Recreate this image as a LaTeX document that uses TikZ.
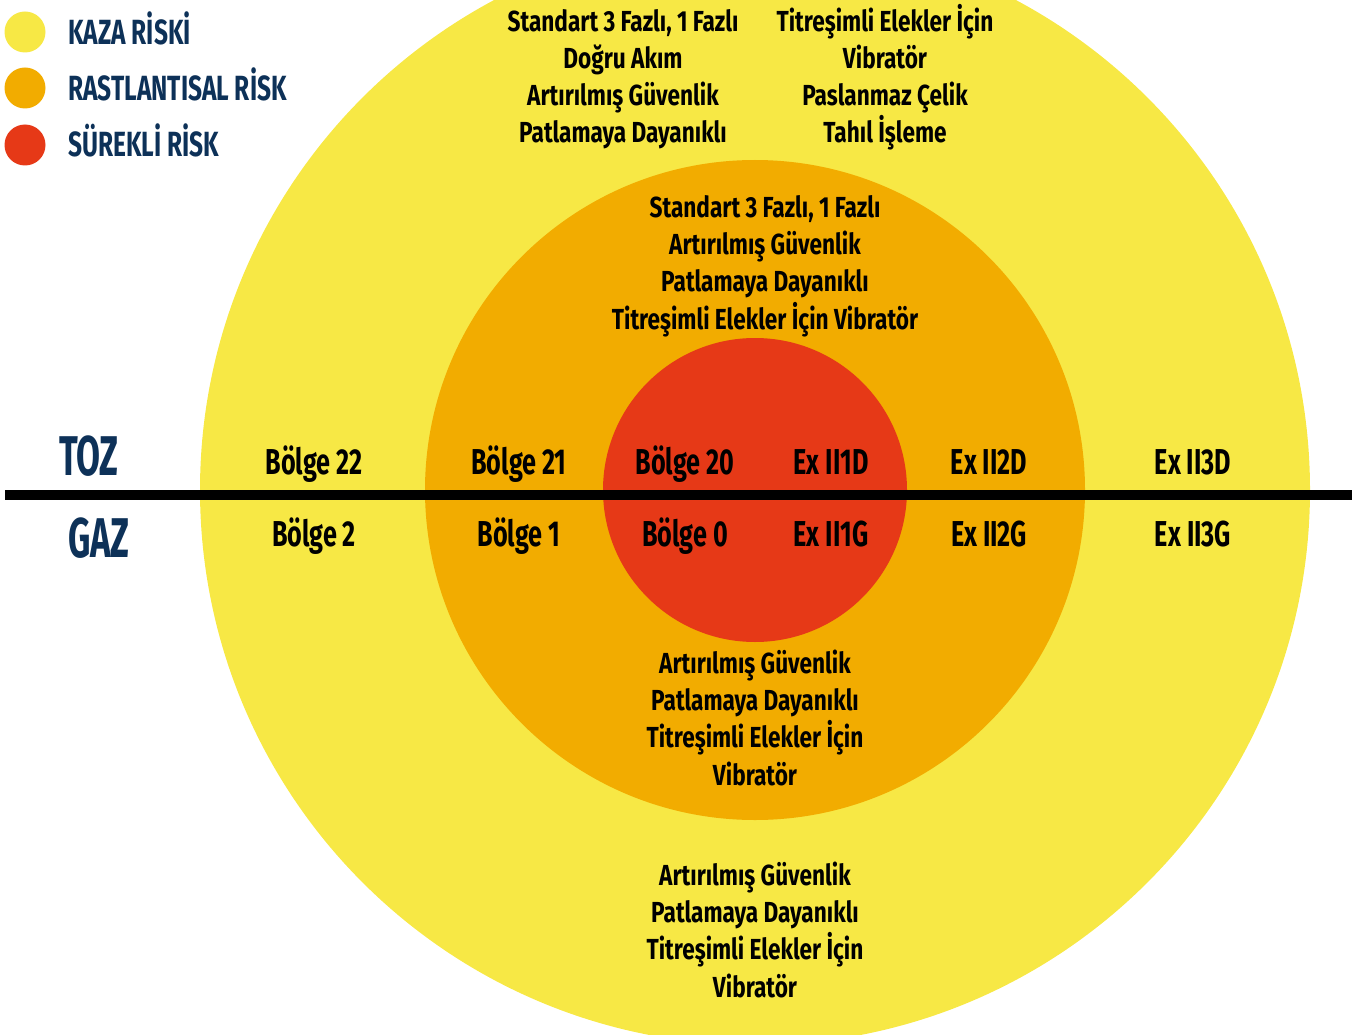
\documentclass[tikz,border=0pt]{standalone}
\usepackage{fontspec}
\setmainfont{Fira Sans}[FakeStretch=0.75]
\newfontfamily\zonefont{Fira Sans}[FakeStretch=0.78]
\newfontfamily\rowfont{Fira Sans}[FakeStretch=0.70]
\newfontfamily\sidefont{Fira Sans}[FakeStretch=0.62]
\definecolor{kaza}{HTML}{F7E845}
\definecolor{rastlanti}{HTML}{F2AC00}
\definecolor{surekli}{HTML}{E63917}
\definecolor{lacivert}{HTML}{0D3158}
\tikzset{
  zonetext/.style={font=\zonefont\bfseries\fontsize{29}{37.3}\selectfont, align=center, anchor=base, inner sep=0pt},
  rowtext/.style={font=\rowfont\bfseries\fontsize{36}{40}\selectfont, anchor=base, inner sep=0pt},
  legendtext/.style={font=\rowfont\bfseries\fontsize{35}{40}\selectfont, text=lacivert, anchor=base west, inner sep=0pt},
  sidetext/.style={font=\sidefont\bfseries\fontsize{56}{60}\selectfont, text=lacivert, anchor=base, inner sep=0pt}
}

\begin{document}
\begin{tikzpicture}[x=1pt, y=-1pt]
			%%%%% START %%%%%
			\useasboundingbox (0, 0) rectangle (1362, 1035);
			
			\clip (0, 0) rectangle (1362, 1035);
			\fill[kaza] (755, 490) circle (555);
			\fill[rastlanti] (755, 490) circle (330);
			\fill[surekli] (755, 490) circle (152);
			
			\fill[black] (5, 490) rectangle (1352, 500);
			
			%% legend
			\fill[kaza] (25, 32) circle (20.5);
			\fill[rastlanti] (25, 88) circle (20.5);
			\fill[surekli] (25, 145) circle (20.5);
			\node[legendtext] (kazaL) at (68, 45) {KAZA RİSKİ};
			\node[legendtext] (rastL) at (68, 101) {RASTLANTISAL RİSK};
			\node[legendtext] (surL) at (68, 157) {SÜREKLİ RİSK};
			
			%% toz / gaz
			\node[sidetext] (toz) at (89, 475) {TOZ};
			\node[sidetext] (gaz) at (99, 557) {GAZ};
			
			\node[rowtext] (b22) at (314, 474) {Bölge 22};
			\node[rowtext] (b21) at (519, 474) {Bölge 21};
			\node[rowtext] (b20) at (685, 474) {Bölge 20};
			\node[rowtext] (ex1d) at (831, 474) {Ex II1D};
			\node[rowtext] (ex2d) at (989, 474) {Ex II2D};
			\node[rowtext] (ex3d) at (1193, 474) {Ex II3D};
			
			\node[rowtext] (b2) at (314, 546) {Bölge 2};
			\node[rowtext] (b1) at (519, 546) {Bölge 1};
			\node[rowtext] (b0) at (685, 546) {Bölge 0};
			\node[rowtext] (ex1g) at (831, 546) {Ex II1G};
			\node[rowtext] (ex2g) at (989, 546) {Ex II2G};
			\node[rowtext] (ex3g) at (1193, 546) {Ex II3G};
			
			%% equipment lists (base = last line)
			\node[zonetext] (kazaUstSol) at (623, 143) {Standart 3 Fazlı, 1 Fazlı\\Doğru Akım\\Artırılmış Güvenlik\\Patlamaya Dayanıklı};
			\node[zonetext] (kazaUstSag) at (885, 143) {Titreşimli Elekler İçin\\Vibratör\\Paslanmaz Çelik\\Tahıl İşleme};
			\node[zonetext] (rastUst) at (765, 329) {Standart 3 Fazlı, 1 Fazlı\\Artırılmış Güvenlik\\Patlamaya Dayanıklı\\Titreşimli Elekler İçin Vibratör};
			\node[zonetext] (rastAlt) at (755, 785) {Artırılmış Güvenlik\\Patlamaya Dayanıklı\\Titreşimli Elekler İçin\\Vibratör};
			\node[zonetext] (kazaAlt) at (755, 997) {Artırılmış Güvenlik\\Patlamaya Dayanıklı\\Titreşimli Elekler İçin\\Vibratör};
			
			%%%%% END %%%%%
\end{tikzpicture}
\end{document}
